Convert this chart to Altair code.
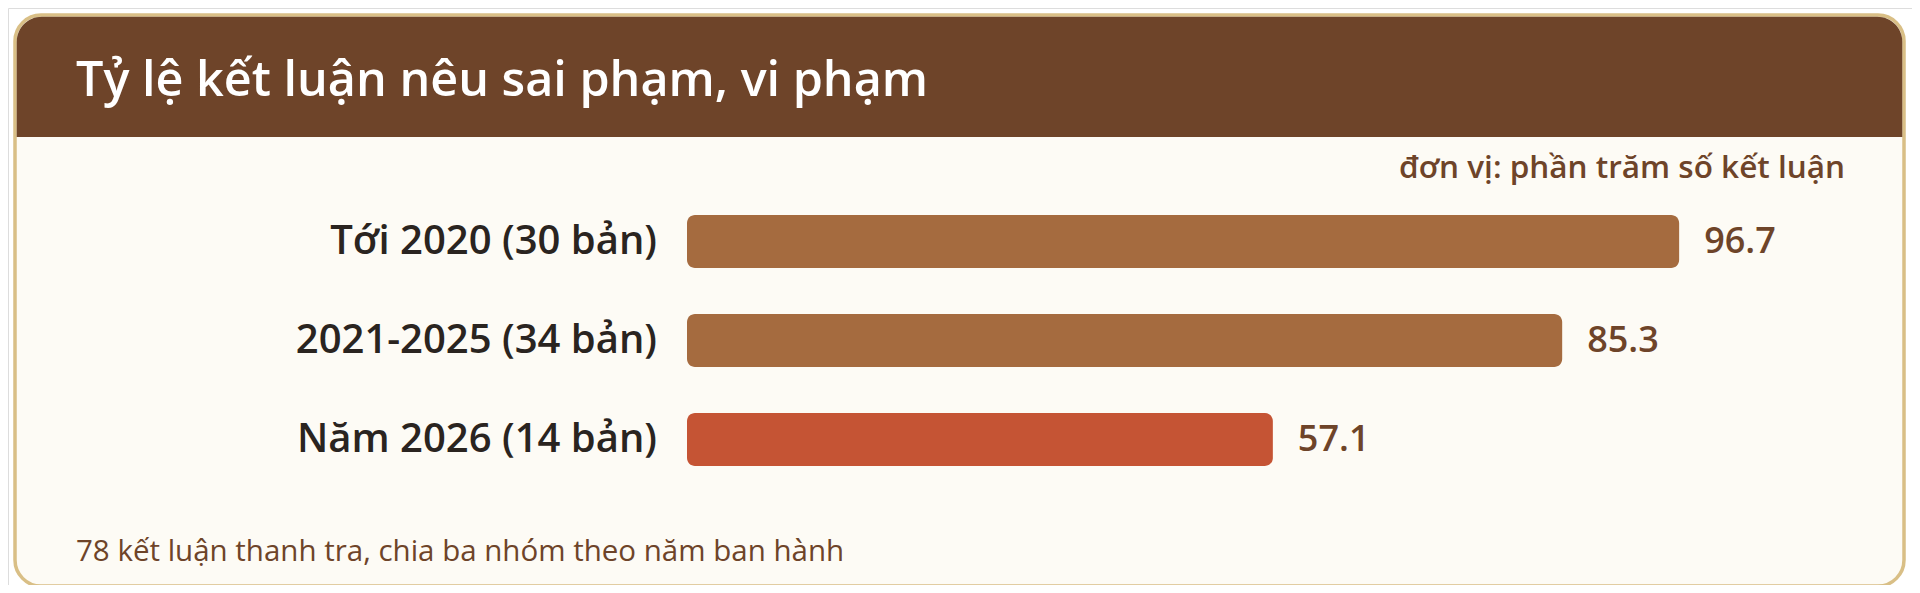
import altair as alt
import pandas as pd

categories = ["Tới 2020 (30 bản)", "2021-2025 (34 bản)", "Năm 2026 (14 bản)"]
values = [96.7, 85.3, 57.1]
highlight = [False, False, True]

title_text = "Tỷ lệ kết luận nêu sai phạm, vi phạm"
unit_text = "đơn vị: phần trăm số kết luận"
note_text = "78 kết luận thanh tra, chia ba nhóm theo năm ban hành"

df = pd.DataFrame({
    "cat": categories,
    "val": values,
    "hl": highlight,
    "label": [f"{v:.1f}" for v in values],
})
one = pd.DataFrame({"t": [title_text], "u": [unit_text], "n": [note_text]})

FONT = "Open Sans"
BROWN = "#6e4429"

xscale = alt.Scale(domain=[0, 100], range=[679, 1705])
yscale = alt.Scale(domain=categories, range=[184, 481], paddingInner=0.465, paddingOuter=0.2325)

card = alt.Chart(one).mark_rect(
    fill="#fdfbf5", stroke="#d9bf86", strokeWidth=3.5, cornerRadius=26
).encode(x=alt.value(7), x2=alt.value(1896), y=alt.value(7), y2=alt.value(578))

header = alt.Chart(one).mark_rect(
    fill=BROWN, cornerRadiusTopLeft=25, cornerRadiusTopRight=25
).encode(x=alt.value(8.7), x2=alt.value(1894.3), y=alt.value(8.7), y2=alt.value(129))

title = alt.Chart(one).mark_text(
    font=FONT, fontSize=48.5, fontWeight=600, color="white", align="left", baseline="alphabetic"
).encode(x=alt.value(68), y=alt.value(88), text="t:N")

unit = alt.Chart(one).mark_text(
    font=FONT, fontSize=31.5, fontWeight=600, color=BROWN, align="right", baseline="alphabetic"
).encode(x=alt.value(1837), y=alt.value(170), text="u:N")

note = alt.Chart(one).mark_text(
    font=FONT, fontSize=29.5, fontWeight=400, color=BROWN, align="left", baseline="alphabetic"
).encode(x=alt.value(68), y=alt.value(553), text="n:N")

bars = alt.Chart(df).mark_bar(cornerRadius=8).encode(
    x=alt.X("val:Q", scale=xscale, axis=None),
    x2=alt.datum(0),
    y=alt.Y("cat:N", scale=yscale, axis=None, sort=categories),
    color=alt.Color("hl:N", scale=alt.Scale(domain=[False, True], range=["#a56b3f", "#c55434"]), legend=None),
)

cat_labels = alt.Chart(df).mark_text(
    font=FONT, fontSize=40, fontWeight=600, color="#2a2420", align="right", baseline="middle"
).encode(
    x=alt.value(649),
    y=alt.Y("cat:N", scale=yscale, axis=None, sort=categories),
    text="cat:N",
)

val_labels = alt.Chart(df).mark_text(
    font=FONT, fontSize=36, fontWeight=600, color=BROWN, align="left", baseline="middle", dx=25
).encode(
    x=alt.X("val:Q", scale=xscale, axis=None),
    y=alt.Y("cat:N", scale=yscale, axis=None, sort=categories),
    text="label:N",
)

chart = alt.layer(card, header, title, unit, note, bars, cat_labels, val_labels).properties(
    width=1904, height=577, autosize=alt.AutoSizeParams(type="none"), padding=0
).configure_view(stroke=None).configure(background="white")

chart.save("out.html", embed_options={"renderer": "svg", "actions": False})
